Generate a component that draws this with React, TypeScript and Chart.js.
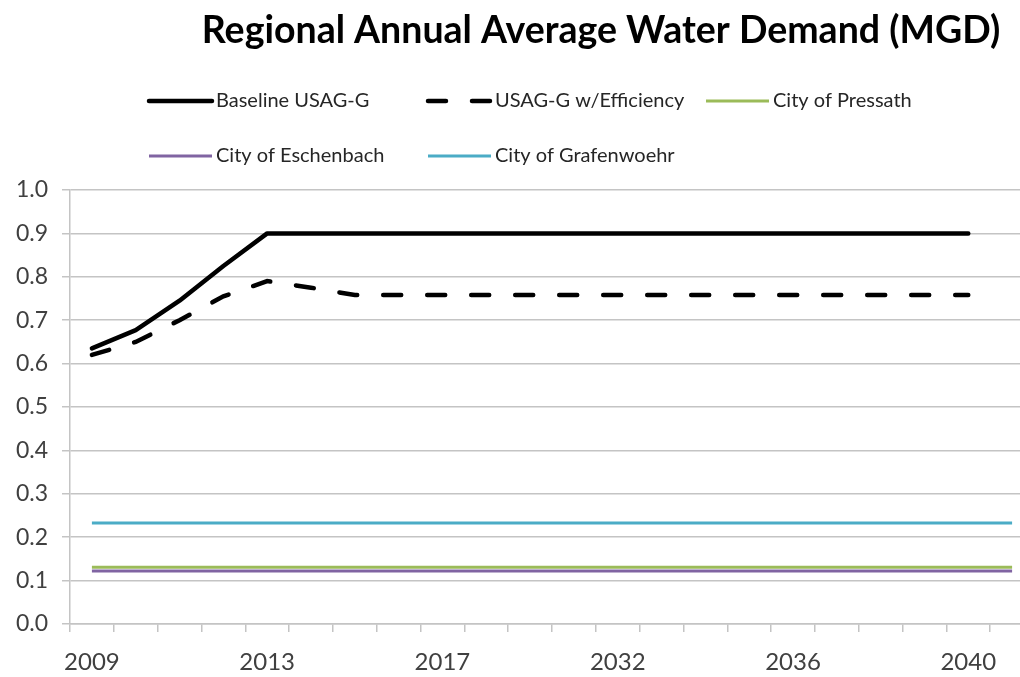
import React, { useEffect, useRef } from 'react';
import { Chart, registerables } from 'chart.js';

Chart.register(...registerables);

const categories = [
  '2009', '2010', '2011', '2012', '2013', '2014', '2015', '2016', '2017', '2018', '2019',
  '2020', '2032', '2033', '2034', '2035', '2036', '2037', '2038', '2039', '2040', '2041',
];
const shownTickLabels = ['2009', '2013', '2017', '2032', '2036', '2040'];
const yTickValues = [0, 0.1, 0.2, 0.3, 0.4, 0.5, 0.6, 0.7, 0.8, 0.9, 1.0];

const baselineUSAG = [
  0.635, 0.677, 0.745, 0.825, 0.9, 0.9, 0.9, 0.9, 0.9, 0.9, 0.9,
  0.9, 0.9, 0.9, 0.9, 0.9, 0.9, 0.9, 0.9, 0.9, 0.9, null,
];
const usagEfficiency = [
  0.62, 0.65, 0.7, 0.755, 0.79, 0.775, 0.758, 0.758, 0.758, 0.758, 0.758,
  0.758, 0.758, 0.758, 0.758, 0.758, 0.758, 0.758, 0.758, 0.758, 0.758, null,
];
const pressath = [
  0.131, 0.131, 0.131, 0.131, 0.131, 0.131, 0.131, 0.131, 0.131, 0.131, 0.131,
  0.131, 0.131, 0.131, 0.131, 0.131, 0.131, 0.131, 0.131, 0.131, 0.131, 0.131,
];
const eschenbach = [
  0.122, 0.122, 0.122, 0.122, 0.122, 0.122, 0.122, 0.122, 0.122, 0.122, 0.122,
  0.122, 0.122, 0.122, 0.122, 0.122, 0.122, 0.122, 0.122, 0.122, 0.122, 0.122,
];
const grafenwoehr = [
  0.233, 0.233, 0.233, 0.233, 0.233, 0.233, 0.233, 0.233, 0.233, 0.233, 0.233,
  0.233, 0.233, 0.233, 0.233, 0.233, 0.233, 0.233, 0.233, 0.233, 0.233, 0.233,
];

const TITLE = 'Regional Annual Average Water Demand (MGD)';
const FONT = 'Lato, "Open Sans", sans-serif';

const CANVAS_W = 1100;
const CANVAS_H = 677;

const headerPlugin = {
  id: 'header',
  afterDraw(chart: any) {
    const ctx = chart.ctx;
    ctx.save();
    ctx.fillStyle = '#000000';
    ctx.font = `bold 37.5px ${FONT}`;
    ctx.textAlign = 'center';
    ctx.textBaseline = 'middle';
    ctx.fillText(TITLE, 601, 31);

    const cols = [149, 428, 706];
    const rows = [101, 156];
    const sampleLen = 63;
    ctx.font = `20px ${FONT}`;
    ctx.textAlign = 'left';
    ctx.textBaseline = 'middle';
    chart.data.datasets.forEach((ds: any, i: number) => {
      const x = cols[i % 3];
      const y = rows[Math.floor(i / 3)];
      ctx.save();
      ctx.strokeStyle = ds.borderColor;
      ctx.lineWidth = ds.borderWidth;
      ctx.lineCap = ds.borderCapStyle || 'butt';
      ctx.setLineDash(ds.borderDash || []);
      ctx.beginPath();
      ctx.moveTo(x, y);
      ctx.lineTo(x + sampleLen, y);
      ctx.stroke();
      ctx.restore();
      ctx.fillStyle = '#262626';
      ctx.fillText(ds.label, x + sampleLen + 4, y);
    });
    ctx.restore();
  },
};

export default function App() {
  const ref = useRef<HTMLCanvasElement | null>(null);

  useEffect(() => {
    if (!ref.current) return;
    const chart = new Chart(ref.current, {
      type: 'line',
      data: {
        labels: categories,
        datasets: [
          {
            label: 'Baseline USAG-G',
            data: baselineUSAG,
            borderColor: '#000000',
            borderWidth: 4.5,
            pointRadius: 0,
            tension: 0,
            borderCapStyle: 'round',
            borderJoinStyle: 'round',
          },
          {
            label: 'USAG-G w/Efficiency',
            data: usagEfficiency,
            borderColor: '#000000',
            borderWidth: 4.5,
            borderDash: [18, 26],
            borderCapStyle: 'round',
            pointRadius: 0,
            tension: 0,
          },
          {
            label: 'City of Pressath',
            data: pressath,
            borderColor: '#9bbb59',
            borderWidth: 3,
            pointRadius: 0,
          },
          {
            label: 'City of Eschenbach',
            data: eschenbach,
            borderColor: '#8064a2',
            borderWidth: 3,
            pointRadius: 0,
          },
          {
            label: 'City of Grafenwoehr',
            data: grafenwoehr,
            borderColor: '#4bacc6',
            borderWidth: 3,
            pointRadius: 0,
          },
        ] as any,
      },
      options: {
        animation: false,
        responsive: false,
        devicePixelRatio: 1,
        events: [],
        layout: { padding: { top: 190, right: CANVAS_W - 1034, left: 0, bottom: 0 } },
        plugins: {
          legend: { display: false },
          title: { display: false },
          tooltip: { enabled: false },
        },
        scales: {
          x: {
            type: 'category',
            offset: true,
            afterFit: (s: any) => {
              s.height = 53;
            },
            grid: {
              offset: true,
              drawOnChartArea: false,
              drawTicks: true,
              tickLength: 8,
              color: '#c4c4c4',
              lineWidth: 1.5,
            },
            border: { display: true, color: '#c4c4c4', width: 1.5 },
            ticks: {
              autoSkip: false,
              maxRotation: 0,
              minRotation: 0,
              padding: 16,
              color: '#404040',
              font: { family: FONT, size: 24 },
              callback: (_v: any, i: number) =>
                shownTickLabels.includes(categories[i]) ? categories[i] : '',
            },
          },
          y: {
            min: 0,
            max: 1,
            afterFit: (s: any) => {
              s.width = 70;
            },
            afterBuildTicks: (s: any) => {
              s.ticks = yTickValues.map((v) => ({ value: v }));
            },
            grid: {
              color: '#c4c4c4',
              lineWidth: 1.5,
              tickLength: 8,
            },
            border: { display: true, color: '#c4c4c4', width: 1.5 },
            ticks: {
              padding: 14,
              color: '#404040',
              font: { family: FONT, size: 23 },
              callback: (v: any) => Number(v).toFixed(1),
            },
          },
        },
      },
      plugins: [headerPlugin],
    });
    return () => chart.destroy();
  }, []);

  return (
    <div
      style={{
        position: 'fixed',
        top: 0,
        left: 0,
        width: 1020,
        height: 677,
        overflow: 'hidden',
        background: '#ffffff',
      }}
    >
      <canvas ref={ref} width={CANVAS_W} height={CANVAS_H} style={{ width: CANVAS_W, height: CANVAS_H }} />
    </div>
  );
}
